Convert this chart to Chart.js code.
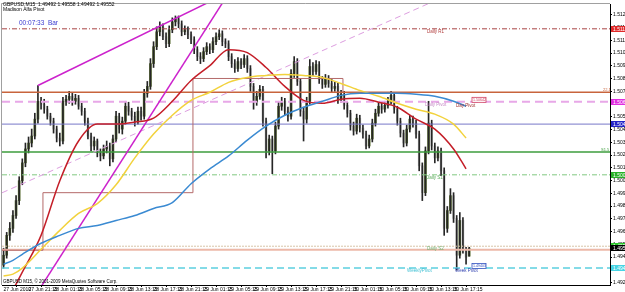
<!DOCTYPE html>
<html>
<head>
<meta charset="utf-8">
<title>GBPUSD,M15</title>
<script src="https://cdn.jsdelivr.net/npm/chart.js@4.4.1/dist/chart.umd.min.js"></script>
<style>
  html, body { margin: 0; padding: 0; background: #fff; }
  canvas { display: block; }
</style>
</head>
<body>
<canvas id="chart" width="625" height="292"></canvas>
<script>
// GBPUSD M15 candles with MAs, pivots and trend lines (MT4 screenshot look)

const opens = [1.49425,1.49499,1.49647,1.49699,1.49795,1.49906,1.50054,1.50187,1.50291,1.50335,
  1.50387,1.50513,1.50646,1.50624,1.50587,1.50535,1.50498,1.50439,1.50372,1.50350,
  1.50646,1.50661,1.50683,1.50646,1.50668,1.50609,1.50572,1.50498,1.50387,1.50313,
  1.50350,1.50261,1.50239,1.50291,1.50313,1.50217,1.50365,1.50535,1.50439,1.50498,
  1.50609,1.50572,1.50535,1.50498,1.50572,1.50535,1.50705,1.50757,1.50927,1.51053,
  1.51164,1.51201,1.51127,1.51075,1.51179,1.51238,1.51260,1.51223,1.51164,1.51179,
  1.51142,1.51105,1.51031,1.50979,1.50964,1.51016,1.51053,1.51031,1.51090,1.51127,
  1.51149,1.51090,1.51075,1.50979,1.50927,1.50890,1.50942,1.50920,1.50964,1.50890,
  1.50757,1.50646,1.50683,1.50735,1.50498,1.50276,1.50365,1.50276,1.50461,1.50609,
  1.50646,1.50572,1.50535,1.50853,1.50942,1.50794,1.50572,1.50513,1.50646,1.50905,
  1.50868,1.50920,1.50809,1.50772,1.50816,1.50779,1.50742,1.50757,1.50661,1.50698,
  1.50616,1.50557,1.50461,1.50424,1.50520,1.50446,1.50402,1.50313,1.50365,1.50483,
  1.50557,1.50609,1.50587,1.50616,1.50646,1.50690,1.50587,1.50498,1.50409,1.50335,
  1.50439,1.50513,1.50483,1.50402,1.50165,1.49965,1.50276,1.50483,1.50313,1.50224,
  1.50276,1.50128,1.49699,1.49832,1.49943,1.49773,1.49499,1.49758,1.49536,1.49492];

const highs = [1.49551,1.49669,1.49743,1.49832,1.49943,1.50084,1.50217,1.50335,1.50380,1.50439,
  1.50557,1.50764,1.50676,1.50661,1.50609,1.50557,1.50520,1.50461,1.50409,1.50676,
  1.50690,1.50720,1.50705,1.50698,1.50690,1.50631,1.50594,1.50520,1.50409,1.50380,
  1.50365,1.50291,1.50320,1.50350,1.50335,1.50394,1.50572,1.50557,1.50528,1.50646,
  1.50639,1.50594,1.50565,1.50602,1.50602,1.50735,1.50794,1.50964,1.51090,1.51201,
  1.51238,1.51223,1.51157,1.51208,1.51268,1.51282,1.51282,1.51245,1.51208,1.51201,
  1.51164,1.51127,1.51053,1.51009,1.51046,1.51083,1.51075,1.51120,1.51157,1.51179,
  1.51171,1.51112,1.51097,1.51001,1.50957,1.50972,1.50964,1.50994,1.50986,1.50912,
  1.50779,1.50720,1.50764,1.50757,1.50520,1.50394,1.50387,1.50491,1.50646,1.50676,
  1.50668,1.50602,1.50883,1.50979,1.50964,1.50816,1.50602,1.50676,1.50957,1.50935,
  1.50949,1.50942,1.50831,1.50846,1.50838,1.50809,1.50787,1.50779,1.50727,1.50720,
  1.50639,1.50579,1.50491,1.50550,1.50542,1.50468,1.50424,1.50394,1.50513,1.50587,
  1.50639,1.50631,1.50646,1.50676,1.50720,1.50713,1.50609,1.50520,1.50431,1.50468,
  1.50542,1.50535,1.50505,1.50424,1.50187,1.50306,1.50646,1.50505,1.50335,1.50306,
  1.50298,1.50150,1.49862,1.49995,1.49965,1.49795,1.49817,1.49780,1.49558,1.49558];

const lows = [1.49403,1.49477,1.49610,1.49669,1.49773,1.49876,1.50024,1.50158,1.50261,1.50306,
  1.50365,1.50483,1.50587,1.50557,1.50513,1.50468,1.50409,1.50343,1.50313,1.50328,
  1.50616,1.50631,1.50616,1.50624,1.50587,1.50542,1.50468,1.50365,1.50276,1.50283,
  1.50232,1.50202,1.50217,1.50261,1.50165,1.50195,1.50343,1.50409,1.50402,1.50476,
  1.50542,1.50505,1.50461,1.50476,1.50505,1.50513,1.50676,1.50735,1.50898,1.51031,
  1.51134,1.51105,1.51046,1.51053,1.51157,1.51208,1.51194,1.51134,1.51142,1.51112,
  1.51075,1.51001,1.50949,1.50927,1.50942,1.50994,1.51001,1.51009,1.51068,1.51105,
  1.51060,1.51046,1.50949,1.50898,1.50861,1.50868,1.50890,1.50898,1.50861,1.50720,
  1.50587,1.50616,1.50661,1.50461,1.50224,1.50246,1.50106,1.50254,1.50439,1.50579,
  1.50542,1.50498,1.50513,1.50824,1.50764,1.50535,1.50350,1.50483,1.50624,1.50838,
  1.50846,1.50779,1.50742,1.50750,1.50750,1.50713,1.50720,1.50631,1.50639,1.50587,
  1.50528,1.50431,1.50394,1.50402,1.50417,1.50372,1.50291,1.50298,1.50343,1.50461,
  1.50535,1.50557,1.50565,1.50594,1.50624,1.50557,1.50468,1.50380,1.50306,1.50313,
  1.50417,1.50454,1.50372,1.50128,1.49906,1.49943,1.50254,1.50283,1.50187,1.50202,
  1.50091,1.49647,1.49669,1.49810,1.49743,1.49388,1.49477,1.49514,1.49432,1.49492];

const closes = [1.49499,1.49647,1.49699,1.49795,1.49906,1.50054,1.50187,1.50291,1.50335,1.50387,
  1.50513,1.50646,1.50624,1.50587,1.50535,1.50498,1.50439,1.50372,1.50350,1.50646,
  1.50661,1.50683,1.50646,1.50668,1.50609,1.50572,1.50498,1.50387,1.50313,1.50350,
  1.50261,1.50239,1.50291,1.50313,1.50217,1.50365,1.50535,1.50439,1.50498,1.50609,
  1.50572,1.50535,1.50498,1.50572,1.50535,1.50705,1.50757,1.50927,1.51053,1.51164,
  1.51201,1.51127,1.51075,1.51179,1.51238,1.51260,1.51223,1.51164,1.51179,1.51142,
  1.51105,1.51031,1.50979,1.50964,1.51016,1.51053,1.51031,1.51090,1.51127,1.51149,
  1.51090,1.51075,1.50979,1.50927,1.50890,1.50942,1.50920,1.50964,1.50890,1.50757,
  1.50646,1.50683,1.50735,1.50498,1.50276,1.50365,1.50276,1.50461,1.50609,1.50646,
  1.50572,1.50535,1.50853,1.50942,1.50794,1.50572,1.50513,1.50646,1.50905,1.50868,
  1.50920,1.50809,1.50772,1.50816,1.50779,1.50742,1.50757,1.50661,1.50698,1.50616,
  1.50557,1.50461,1.50424,1.50520,1.50446,1.50402,1.50313,1.50365,1.50483,1.50557,
  1.50609,1.50587,1.50616,1.50646,1.50690,1.50587,1.50498,1.50409,1.50335,1.50439,
  1.50513,1.50483,1.50402,1.50165,1.49965,1.50276,1.50483,1.50313,1.50224,1.50276,
  1.50128,1.49699,1.49832,1.49943,1.49773,1.49499,1.49758,1.49536,1.49484,1.49552];

// time axis: a label every 8 bars
const timeTicks = [0, 8, 16, 24, 32, 40, 48, 56, 64, 72, 80, 88, 96, 104, 112, 120, 128, 136, 144];
const timeLabels = ['27 Jun 2010', '27 Jun 21:15', '28 Jun 01:15', '28 Jun 05:15', '28 Jun 09:15',
  '28 Jun 13:15', '28 Jun 17:15', '28 Jun 21:15', '29 Jun 01:15', '29 Jun 05:15', '29 Jun 09:15',
  '29 Jun 13:15', '29 Jun 17:15', '29 Jun 21:15', '30 Jun 01:15', '30 Jun 05:15', '30 Jun 09:15',
  '30 Jun 13:15', '30 Jun 17:15'];

const priceTicks = [1.51290, 1.51195, 1.51100, 1.51005, 1.50910, 1.50815, 1.50720, 1.50625,
  1.50530, 1.50435, 1.50340, 1.50245, 1.50150, 1.50055, 1.49960, 1.49865, 1.49770, 1.49675,
  1.49580, 1.49485, 1.49390, 1.49295];

// moving averages read at these bars
const maIdx = [0, 3, 6, 12, 18, 24, 30, 36, 42, 48, 54, 60, 66, 72, 78, 84, 90, 96, 102, 108, 114, 120, 126, 132, 138, 144, 148];
const maRed = [null, 1.49240, 1.49373, 1.49647, 1.50054, 1.50350, 1.50476, 1.50476, 1.50491, 1.50520,
  1.50646, 1.50801, 1.50912, 1.51031, 1.51009, 1.50898, 1.50757, 1.50653, 1.50631, 1.50661,
  1.50668, 1.50639, 1.50602, 1.50513, 1.50439, 1.50291, 1.50143];
const maYellow = [1.49344, 1.49358, 1.49403, 1.49543, 1.49684, 1.49810, 1.49884, 1.50024, 1.50224, 1.50402,
  1.50542, 1.50653, 1.50713, 1.50787, 1.50824, 1.50838, 1.50846, 1.50838, 1.50824, 1.50779,
  1.50727, 1.50683, 1.50631, 1.50587, 1.50550, 1.50476, 1.50372];
const maBlue = [1.49432, 1.49461, 1.49506, 1.49588, 1.49647, 1.49699, 1.49721, 1.49758, 1.49795, 1.49847,
  1.49891, 1.50032, 1.50143, 1.50239, 1.50357, 1.50461, 1.50542, 1.50602, 1.50646, 1.50690,
  1.50705, 1.50705, 1.50705, 1.50698, 1.50683, 1.50646, 1.50609];

// horizontal pivot levels
const levelNames = ['Daily R1', 'R level', 'Daily Pivot', 'Mid level', 'S level', 'Daily S1', 'Daily S2', 'Prev low', 'Weekly Pivot'];
const levelPrices = [1.51186, 1.50713, 1.50642, 1.50476, 1.50269, 1.50098, 1.49566, 1.49540, 1.49403];

// trend lines (bar index, price)
const channelTopIdx = [11, 80];
const channelTopPrice = [1.50764, 1.51547];
const channelBotIdx = [10, 72];
const channelBotPrice = [1.49191, 1.51450];
const dashTrendIdx = [-0.5, 150];
const dashTrendPrice = [1.49964, 1.51519];
const rangeIdx = [-0.5, 12.6, 60.6, 108.6];
const rangePrice = [1.49536, 1.49965, 1.50816, 1.50713];

const X_MIN = -0.5, X_MAX = 194.06;
const FONT = 'Liberation Sans, DejaVu Sans, sans-serif';

const levelStyles = [
  { color: '#a84444', width: 1, dash: [5, 2, 1, 2] },
  { color: '#c8643c', width: 1.5, dash: [] },
  { color: '#e8a8e8', width: 2, dash: [8, 5] },
  { color: '#7878c8', width: 1, dash: [] },
  { color: '#3c9c3c', width: 1.5, dash: [] },
  { color: '#80c880', width: 1, dash: [5, 2, 1, 2] },
  { color: '#d8c4a8', width: 1, dash: [2, 1] },
  { color: '#ecb8a8', width: 2, dash: [] },
  { color: '#5cd0e0', width: 1.5, dash: [7, 4] }
];

function lineSet(xs, ys, color, width, extra) {
  return Object.assign({
    type: 'line',
    data: xs.map((x, i) => ({ x: x, y: ys[i] })),
    borderColor: color,
    borderWidth: width,
    pointRadius: 0,
    fill: false,
    tension: 0,
    order: 2
  }, extra || {});
}

const datasets = [];

// candles: bodies first, wicks drawn over them
datasets.push({
  type: 'bar',
  data: closes.map((c, i) => ({ x: i, y: [opens[i], c] })),
  backgroundColor: ctx => closes[ctx.dataIndex] >= opens[ctx.dataIndex] ? '#56692f' : '#c6c6c6',
  borderWidth: 0,
  barThickness: 2,
  minBarLength: 1,
  grouped: false,
  order: 21
});
datasets.push({
  type: 'bar',
  data: closes.map((c, i) => ({ x: i, y: [lows[i], highs[i]] })),
  backgroundColor: '#262626',
  borderWidth: 0,
  barThickness: 1,
  grouped: false,
  order: 20
});

levelPrices.forEach((p, k) => {
  const s = levelStyles[k];
  datasets.push(lineSet([X_MIN, X_MAX], [p, p], s.color, s.width, { borderDash: s.dash, order: 5 }));
});

datasets.push(lineSet(rangeIdx, rangePrice, '#b46a6a', 1, { stepped: true, order: 4 }));
datasets.push(lineSet(dashTrendIdx, dashTrendPrice, '#dd9ee0', 1, { borderDash: [6, 4], order: 4 }));
datasets.push(lineSet(channelTopIdx, channelTopPrice, '#cc22cc', 1.5, { order: 3 }));
datasets.push(lineSet(channelBotIdx, channelBotPrice, '#cc22cc', 1.5, { order: 3 }));

const maStyle = { cubicInterpolationMode: 'monotone', spanGaps: false, order: 1 };
datasets.push(lineSet(maIdx, maBlue, '#3a8ad2', 1.5, maStyle));
datasets.push(lineSet(maIdx, maYellow, '#f2d23c', 1.5, maStyle));
datasets.push(lineSet(maIdx, maRed, '#c41e28', 1.5, maStyle));

// texts and price-axis tags, MT4 style
const mt4Overlay = {
  id: 'mt4Overlay',
  beforeDraw(chart) {
    const ctx = chart.ctx;
    ctx.save();
    ctx.fillStyle = '#ffffff';
    ctx.fillRect(0, 0, chart.width, chart.height);
    ctx.restore();
  },
  afterDraw(chart) {
    const ctx = chart.ctx;
    const a = chart.chartArea;
    const y = chart.scales.y;
    ctx.save();

    ctx.strokeStyle = '#a0a0a0';
    ctx.lineWidth = 1;
    ctx.beginPath();
    ctx.moveTo(a.left - 0.5, a.bottom);
    ctx.lineTo(a.left - 0.5, a.top - 0.5);
    ctx.lineTo(a.right, a.top - 0.5);
    ctx.stroke();

    const txt = (s, x, yy, color, size) => {
      ctx.font = size + 'px ' + FONT;
      ctx.fillStyle = color;
      ctx.textAlign = 'left';
      ctx.textBaseline = 'middle';
      ctx.fillText(s, x, yy);
    };

    txt('GBPUSD,M15  1.49492 1.49558 1.49492 1.49552', 3, 5, '#000', 5);
    txt('Madison Alfa Pivot', 3, 10, '#000', 5);
    txt('00:07:33  Bar', 19, 23, '#3a3ad0', 6.5);
    txt('GBPUSD M15, \u00a9 2001-2009 MetaQuotes Software Corp.', 3, 282, '#000', 4.5);

    const py = k => y.getPixelForValue(levelPrices[k]);
    txt('Daily R1', 427, py(0) + 3, '#b03a3a', 4.5);
    txt('Daily Pivot', 425, py(2) + 3, '#c58ac5', 4.5);
    txt('Day Pivot', 456, py(2) + 4, '#a03030', 4.5);
    txt('Daily S1', 426, py(5) + 3, '#58a858', 4.5);
    txt('Daily S2', 427, py(6) + 3, '#70b070', 4.5);
    txt('WeeklyPivot', 407, py(8) + 3, '#40c0d4', 4.5);
    txt('Week Pivot', 455, py(8) + 3, '#3040b0', 4.5);
    txt('22.1', 603, py(1) - 2, '#c8643c', 4);
    txt('S1.5', 601, py(4) - 2, '#3c9c3c', 4);

    // small boxed tags next to the pivot names
    const tag = (k, border, color) => {
      const yy = py(k) - 2;
      ctx.fillStyle = '#ffffff';
      ctx.fillRect(472, yy - 2.5, 14, 5);
      ctx.strokeStyle = border;
      ctx.lineWidth = 0.8;
      ctx.strokeRect(472, yy - 2.5, 14, 5);
      txt(levelPrices[k].toFixed(5), 473, yy, color, 3.6);
    };
    tag(2, '#d04060', '#d04060');
    tag(8, '#3050c0', '#3050c0');

    // coloured price tags on the axis
    const axisTag = (price, fill, color) => {
      const yy = Math.round(y.getPixelForValue(price));
      ctx.fillStyle = fill;
      ctx.fillRect(a.right + 1, yy - 3, 16, 6);
      txt(price.toFixed(5), a.right + 3, yy + 0.5, color, 5);
    };
    axisTag(levelPrices[0], '#e02a2a', '#fff');
    axisTag(levelPrices[2], '#e02ee0', '#fff');
    axisTag(levelPrices[3], '#2424c8', '#fff');
    axisTag(levelPrices[5], '#28b028', '#fff');
    axisTag(levelPrices[6], '#2cc82c', '#fff');
    axisTag(closes[closes.length - 1], '#000000', '#fff');
    axisTag(levelPrices[8], '#48d4e4', '#fff');

    ctx.restore();
  }
};

new Chart(document.getElementById('chart'), {
  type: 'bar',
  data: { datasets: datasets },
  options: {
    responsive: false,
    animation: false,
    events: [],
    layout: { padding: { left: 2, top: 2, right: 0, bottom: 0 } },
    plugins: { legend: { display: false }, tooltip: { enabled: false } },
    scales: {
      x: {
        type: 'linear',
        min: X_MIN,
        max: X_MAX,
        offset: false,
        afterBuildTicks: s => { s.ticks = timeTicks.map(v => ({ value: v })); },
        afterFit: s => { s.height = 7; },
        grid: { drawOnChartArea: false, drawTicks: true, tickLength: 2, color: '#000' },
        border: { display: true, color: '#000', width: 1 },
        ticks: {
          autoSkip: false, maxRotation: 0, minRotation: 0, align: 'start', padding: 0,
          color: '#000', font: { size: 5, family: FONT },
          callback: v => timeLabels[timeTicks.indexOf(v)]
        }
      },
      y: {
        type: 'linear',
        position: 'right',
        min: 1.49277,
        max: 1.51371,
        afterBuildTicks: s => { s.ticks = priceTicks.map(v => ({ value: v })); },
        afterFit: s => { s.width = 15; },
        grid: { drawOnChartArea: false, drawTicks: true, tickLength: 2, color: '#000' },
        border: { display: true, color: '#000', width: 1 },
        ticks: {
          autoSkip: false, padding: 1, color: '#000', font: { size: 5, family: FONT },
          callback: v => Number(v).toFixed(5)
        }
      }
    }
  },
  plugins: [mt4Overlay]
});
</script>
</body>
</html>
